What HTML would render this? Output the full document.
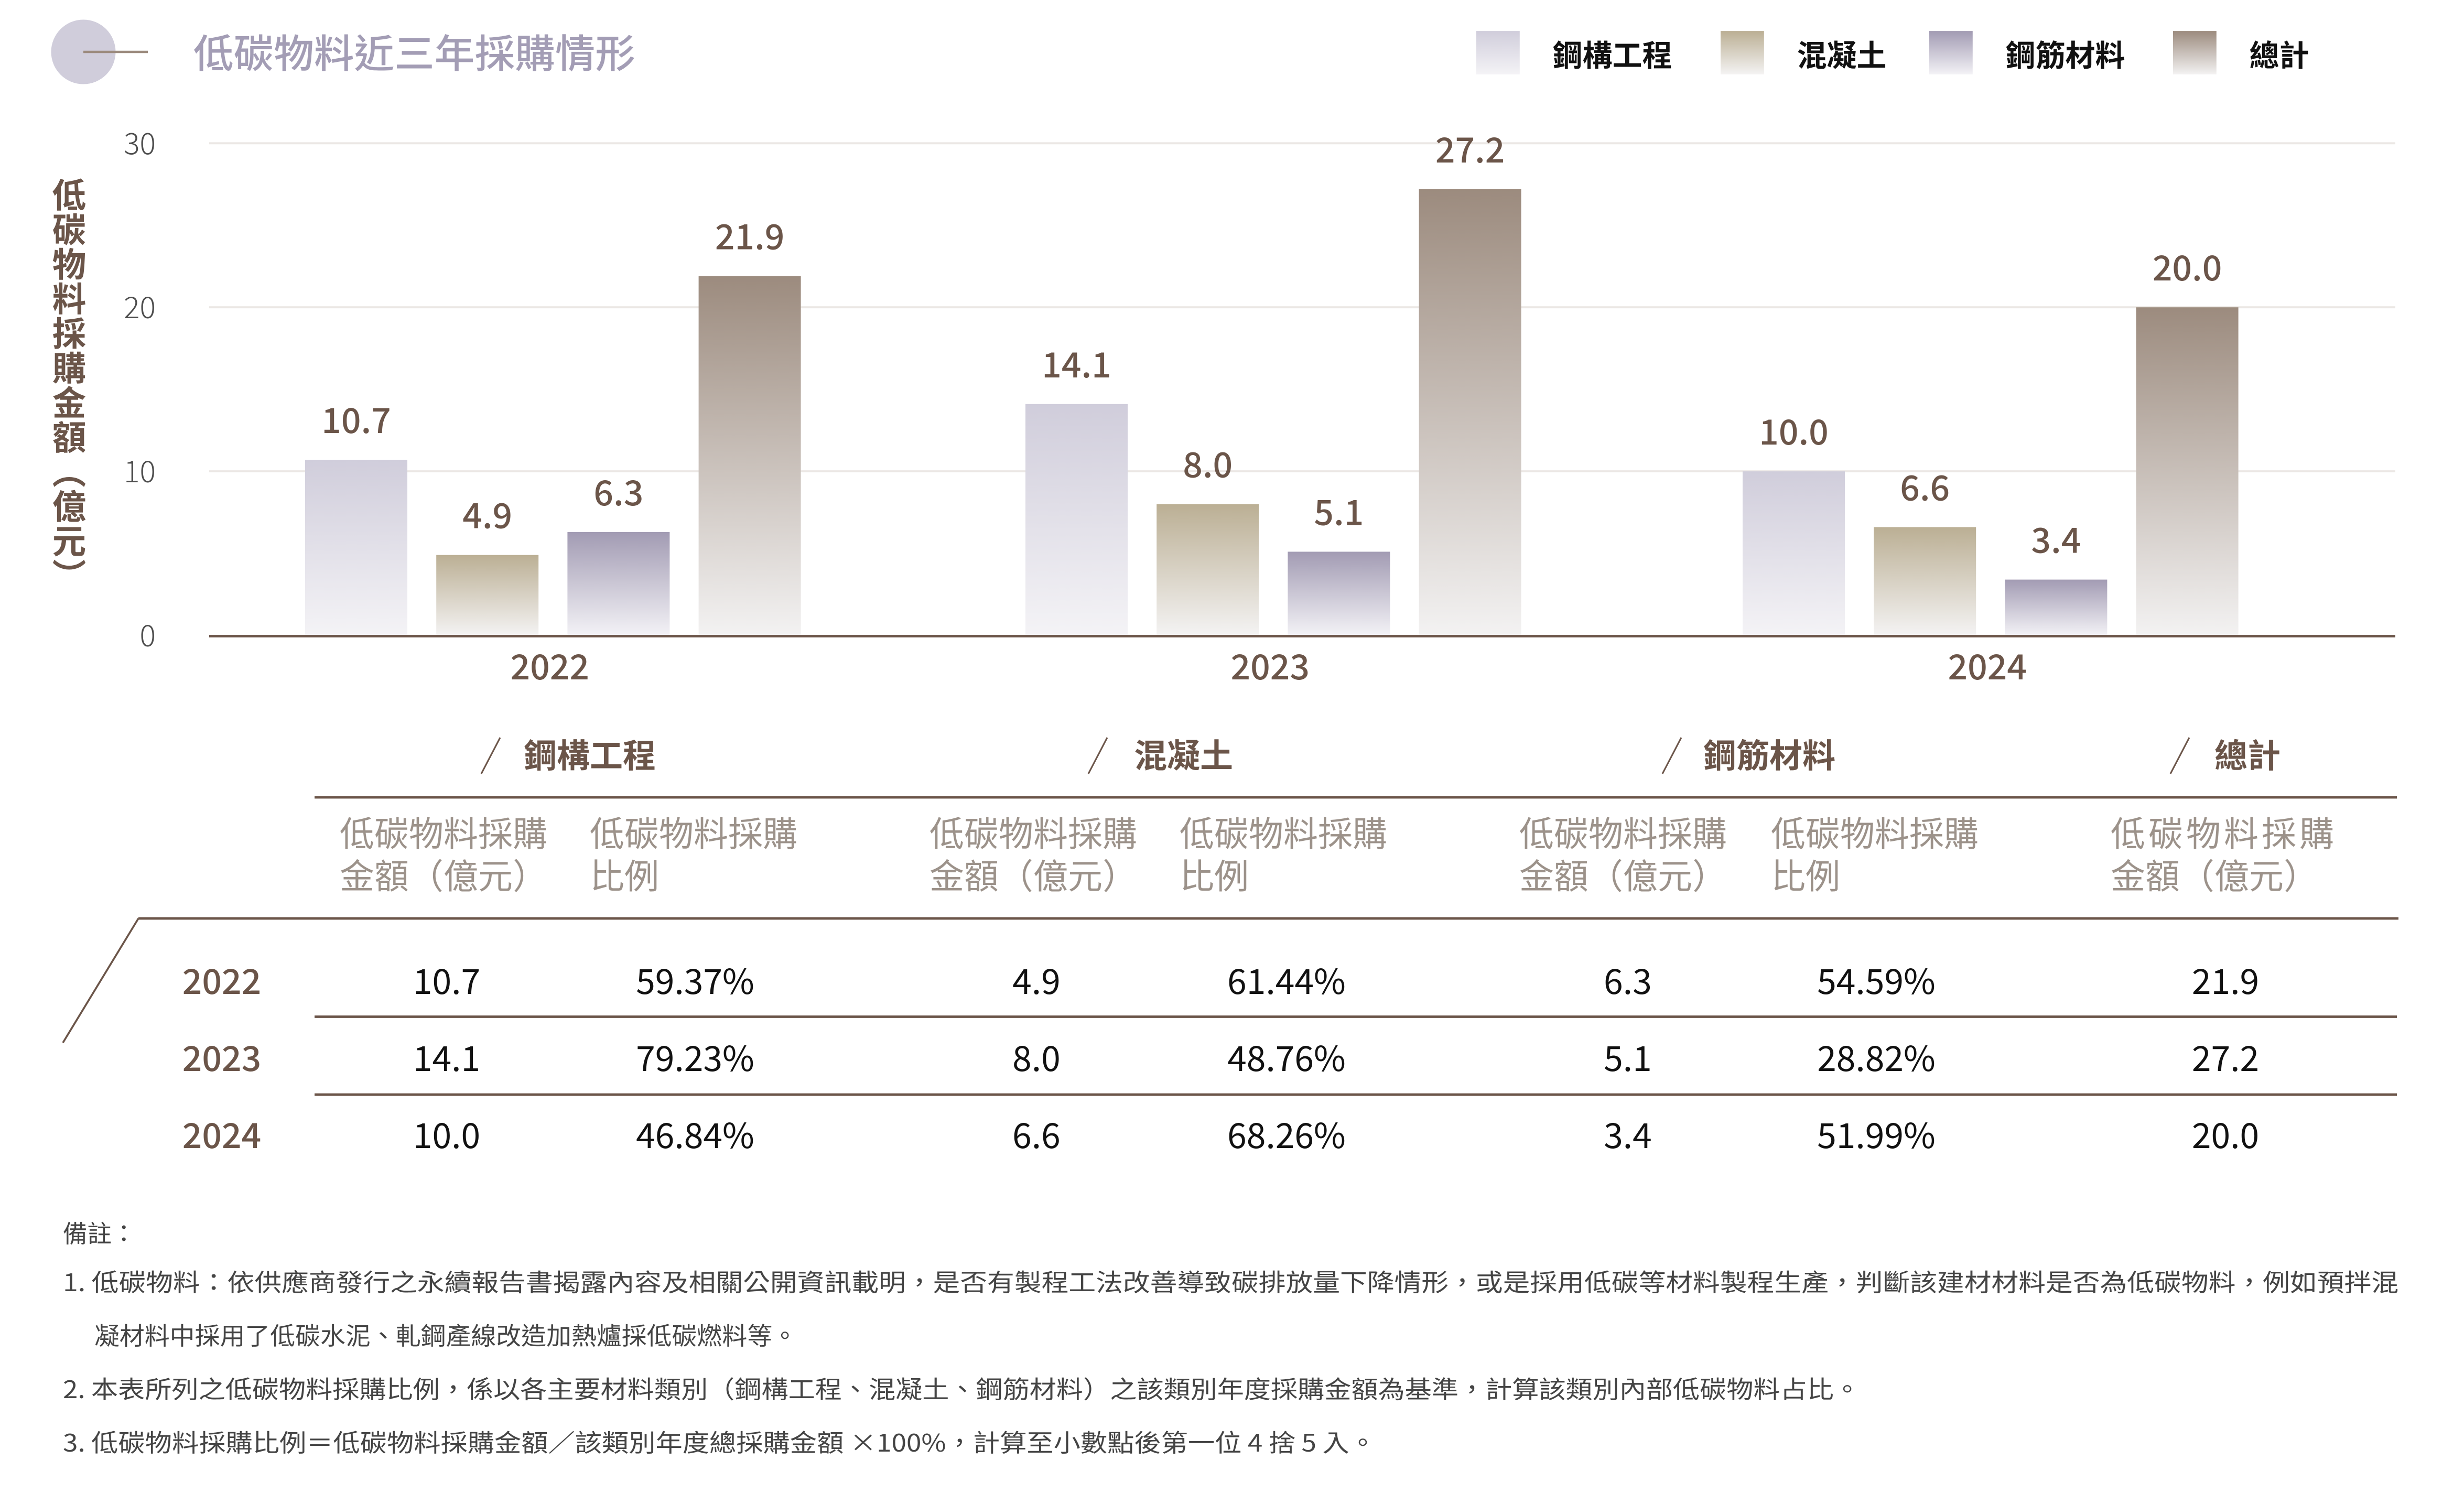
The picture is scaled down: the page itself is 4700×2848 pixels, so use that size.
<!DOCTYPE html>
<html><head><meta charset="utf-8">
<style>
html,body{margin:0;padding:0;background:#fff;}
svg{display:block;}
text{font-family:"Noto Sans CJK TC","Liberation Sans",sans-serif;}
</style></head>
<body>
<svg id="chart" width="4700" height="2848" viewBox="0 0 1566.67 949.33" preserveAspectRatio="none" xmlns="http://www.w3.org/2000/svg">
<defs>
<linearGradient id="g0" x1="0" y1="0" x2="0" y2="1"><stop offset="0" stop-color="#d0cddb"/><stop offset="1" stop-color="#f4f3f6"/></linearGradient>
<linearGradient id="g1" x1="0" y1="0" x2="0" y2="1"><stop offset="0" stop-color="#bbaf94"/><stop offset="1" stop-color="#f4f3f3"/></linearGradient>
<linearGradient id="g2" x1="0" y1="0" x2="0" y2="1"><stop offset="0" stop-color="#a29bb3"/><stop offset="1" stop-color="#f3f2f6"/></linearGradient>
<linearGradient id="g3" x1="0" y1="0" x2="0" y2="1"><stop offset="0" stop-color="#9c8b7e"/><stop offset="1" stop-color="#f3f2f2"/></linearGradient>
</defs>

<g>
<circle cx="53" cy="33" r="20.5" fill="#d0cddb"/>
<line x1="53" y1="33" x2="94" y2="33" stroke="#9c8b7e" stroke-width="1.5"/>
<text x="123" y="43" font-size="25" fill="#a39db5" font-weight="500" textLength="281" lengthAdjust="spacingAndGlyphs">低碳物料近三年採購情形</text>
</g>

<g id="legend"></g>
<g id="grid"></g>
<g id="yticks"></g>
<text x="44" y="113" font-size="21.5" fill="#6b5549" font-weight="700" style="writing-mode:vertical-rl" letter-spacing="0.5">低碳物料採購金額（億元）</text>
<g id="bars"></g>
<line x1="133" y1="404.5" x2="1523" y2="404.5" stroke="#6b5549" stroke-width="1.6"/>
<g id="xlabels"></g>

<g>
<g font-size="21" fill="#6b5549" font-weight="700">
<line x1="318" y1="469" x2="306" y2="492" stroke="#6b5549" stroke-width="1"/><text x="333" y="488">鋼構工程</text>
<line x1="704" y1="469" x2="692" y2="492" stroke="#6b5549" stroke-width="1"/><text x="721" y="488">混凝土</text>
<line x1="1069" y1="469" x2="1057" y2="492" stroke="#6b5549" stroke-width="1"/><text x="1083" y="488">鋼筋材料</text>
<line x1="1392" y1="469" x2="1380" y2="492" stroke="#6b5549" stroke-width="1"/><text x="1408" y="488">總計</text>
</g>
<line x1="200" y1="507" x2="1524" y2="507" stroke="#6b5549" stroke-width="1.6"/>
<g font-size="22" fill="#9c928a">
<text x="216" y="538">低碳物料採購</text><text x="216" y="565">金額（億元）</text>
<text x="375" y="538">低碳物料採購</text><text x="375" y="565">比例</text>
<text x="591" y="538">低碳物料採購</text><text x="591" y="565">金額（億元）</text>
<text x="750" y="538">低碳物料採購</text><text x="750" y="565">比例</text>
<text x="966" y="538">低碳物料採購</text><text x="966" y="565">金額（億元）</text>
<text x="1126" y="538">低碳物料採購</text><text x="1126" y="565">比例</text>
<text x="1342" y="538" letter-spacing="2">低碳物料採購</text><text x="1342" y="565">金額（億元）</text>
</g>
<line x1="88" y1="584" x2="1525" y2="584" stroke="#6b5549" stroke-width="1.6"/>
<line x1="88" y1="584" x2="40" y2="663" stroke="#6b5549" stroke-width="1.2"/>
<line x1="200" y1="646.5" x2="1524" y2="646.5" stroke="#6b5549" stroke-width="1.6"/>
<line x1="200" y1="696" x2="1524" y2="696" stroke="#6b5549" stroke-width="1.6"/>
<g id="tablerows"></g>
</g>

<g font-size="15.5" fill="#444">
<text x="40" y="790">備註：</text>
<text x="40" y="821" textLength="1485" lengthAdjust="spacingAndGlyphs">1. 低碳物料：依供應商發行之永續報告書揭露內容及相關公開資訊載明，是否有製程工法改善導致碳排放量下降情形，或是採用低碳等材料製程生產，判斷該建材材料是否為低碳物料，例如預拌混</text>
<text x="60" y="855" textLength="447" lengthAdjust="spacingAndGlyphs">凝材料中採用了低碳水泥、軋鋼產線改造加熱爐採低碳燃料等。</text>
<text x="40" y="889" textLength="1143" lengthAdjust="spacingAndGlyphs">2. 本表所列之低碳物料採購比例，係以各主要材料類別（鋼構工程、混凝土、鋼筋材料）之該類別年度採購金額為基準，計算該類別內部低碳物料占比。</text>
<text x="40" y="923" textLength="835" lengthAdjust="spacingAndGlyphs">3. 低碳物料採購比例＝低碳物料採購金額／該類別年度總採購金額 ×100%，計算至小數點後第一位 4 捨 5 入。</text>
</g>
</svg>

<script>
const years = ["2022","2023","2024"];
const seriesNames = ["鋼構工程","混凝土","鋼筋材料","總計"];
const steel = [10.7,14.1,10.0];
const concrete = [4.9,8.0,6.6];
const rebar = [6.3,5.1,3.4];
const total = [21.9,27.2,20.0];
const steelPct = ["59.37%","79.23%","46.84%"];
const concretePct = ["61.44%","48.76%","68.26%"];
const rebarPct = ["54.59%","28.82%","51.99%"];
const yTicks = [0,10,20,30];

const NS="http://www.w3.org/2000/svg";
function mk(tag, attrs, parent, txt){const e=document.createElementNS(NS,tag);for(const k in attrs)e.setAttribute(k,attrs[k]);if(txt!==undefined)e.textContent=txt;parent.appendChild(e);return e;}
const y0=404, unit=10.43;
function yS(v){return y0-v*unit;}
const groupStart=[194,652,1108];
const barStep=83.4, barW=65;
function xBar(g,s){return groupStart[g]+s*barStep;}
const series=[steel,concrete,rebar,total];
const fills=["url(#g0)","url(#g1)","url(#g2)","url(#g3)"];

const grid=document.getElementById('grid');
const yt=document.getElementById('yticks');
yTicks.forEach(t=>{
  if(t>0){const l=mk('line',{x1:133,x2:1523,y1:yS(t),y2:yS(t),stroke:'#ebe7e4','stroke-width':1.3},grid);
  
  }
  const tx=mk('text',{x:99,y:yS(t)+7,'font-size':19,fill:'#4d4d4d','text-anchor':'end','font-weight':300},yt,String(t));
  
  
});

const bars=document.getElementById('bars');
years.forEach((yr,g)=>{
  series.forEach((arr,s)=>{
    const v=arr[g];
    const r=mk('rect',{x:xBar(g,s),y:yS(v),width:barW,height:y0-yS(v),fill:fills[s]},bars);
    
    
    const t=mk('text',{x:xBar(g,s)+barW/2,y:yS(v)-17,'font-size':22,fill:'#6b5549','text-anchor':'middle','font-weight':500},bars,v.toFixed(1));
    
    
  });
});

const xl=document.getElementById('xlabels');
years.forEach((yr,g)=>{
  const t=mk('text',{x:xBar(g,0)+(3*barStep+barW)/2-2,y:432,'font-size':22,fill:'#6b5549','text-anchor':'middle','font-weight':500},xl,yr);
  
  
});

const lg=document.getElementById('legend');
const lgSw=[2816/3,3282/3,3680/3,4145/3];
seriesNames.forEach((n,i)=>{
  const r=mk('rect',{x:lgSw[i],y:19.7,width:27.6,height:27.6,fill:fills[i]},lg);
  
  
  const t=mk('text',{x:lgSw[i]+48.5,y:42,'font-size':19,fill:'#111','font-weight':700},lg,n);
  
  
});

const tr=document.getElementById('tablerows');
const colX=[284,442,659,818,1035,1193,1415];
const rowY=[632,681,730];
years.forEach((yr,i)=>{
  const t=mk('text',{x:141,y:rowY[i],'font-size':22,fill:'#6b5549','text-anchor':'middle','font-weight':500},tr,yr);
  
  
  const vals=[steel[i].toFixed(1),steelPct[i],concrete[i].toFixed(1),concretePct[i],rebar[i].toFixed(1),rebarPct[i],total[i].toFixed(1)];
  vals.forEach((v,j)=>{
    const c=mk('text',{x:colX[j],y:rowY[i],'font-size':22,fill:'#111','text-anchor':'middle'},tr,v);
    
    
  });
});
</script>
</body></html>
